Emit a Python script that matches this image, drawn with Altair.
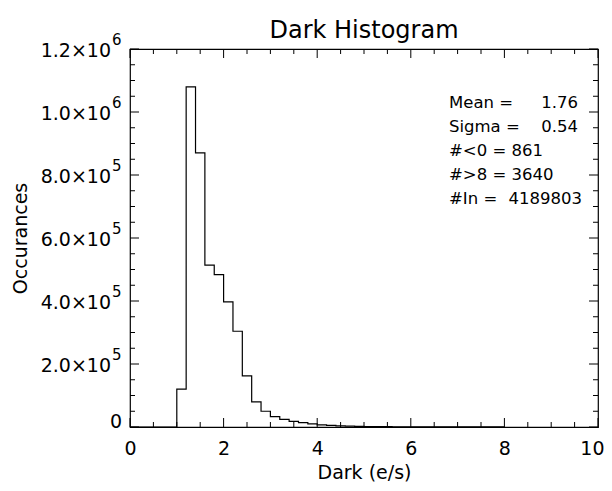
import altair as alt
import pandas as pd

FONT = "DejaVu Sans"

# ---- histogram data (bin width 0.2, from 0 to 8) ----
bin_width = 0.2
counts = [
    0, 0, 0, 0, 0,                                   # 0.0 - 1.0
    120000, 1080000, 870000, 514000, 484000,         # 1.0 - 2.0
    397000, 304000, 162000, 80000, 50000,            # 2.0 - 3.0
    33000, 24000, 18000, 14000, 10000,               # 3.0 - 4.0
    7000, 5200, 3800, 2800, 2100,                    # 4.0 - 5.0
    1600, 1200, 950, 750, 600,                       # 5.0 - 6.0
    480, 400, 330, 280, 240,                         # 6.0 - 7.0
    200, 170, 150, 130, 115,                         # 7.0 - 8.0
]
edges = [round(i * bin_width, 1) for i in range(len(counts) + 1)]

# ---- axis ticks / labels ----
x_major = [0, 2, 4, 6, 8, 10]
x_minor = [0.5, 1, 1.5, 2.5, 3, 3.5, 4.5, 5, 5.5, 6.5, 7, 7.5, 8.5, 9, 9.5]
y_major = [0, 200000, 400000, 600000, 800000, 1000000, 1200000]
y_minor = [50000, 100000, 150000, 250000, 300000, 350000, 450000, 500000, 550000,
           650000, 700000, 750000, 850000, 900000, 950000, 1050000, 1100000, 1150000]
y_mantissa = ["0", "2.0", "4.0", "6.0", "8.0", "1.0", "1.2"]
y_exponent = ["", "5", "5", "5", "5", "6", "6"]

# ---- statistics annotation ----
stat_labels = ["Mean =", "Sigma =", "#<0 = 861", "#>8 = 3640", "#In ="]
stat_values = ["1.76", "0.54", "", "", "4189803"]

W, H = 468, 378
MAJ, MIN = 9, 5

xs = alt.Scale(domain=[0, 10], nice=False, zero=False)
ys = alt.Scale(domain=[0, 1200000], nice=False)

hist_df = pd.DataFrame({"x": edges, "y": counts + [counts[-1]]})

line = alt.Chart(hist_df).mark_line(
    color="black", strokeWidth=1.2, interpolate="step-after"
).encode(
    x=alt.X("x:Q", scale=xs, axis=alt.Axis(
        values=x_major, ticks=False, domain=False, grid=False,
        labelFont=FONT, labelFontSize=19, labelPadding=12, labelColor="black",
        labelFlush=True, labelFlushOffset=6,
        title="Dark (e/s)", titleFont=FONT, titleFontSize=19,
        titleFontWeight="normal", titleColor="black",
        titleY=45, titleBaseline="middle")),
    y=alt.Y("y:Q", scale=ys, axis=alt.Axis(
        labels=False, ticks=False, domain=False, grid=False,
        title="Occurances", titleFont=FONT, titleFontSize=19,
        titleFontWeight="normal", titleColor="black",
        titleX=-110, titleY=H / 2, titleAngle=-90,
        titleAlign="center", titleBaseline="middle")),
)

def xticks(vals, length):
    df = pd.DataFrame({"v": vals})
    bottom = alt.Chart(df).mark_rule(color="black", strokeWidth=1).encode(
        x=alt.X("v:Q", scale=xs), y=alt.value(H), y2=alt.value(H - length))
    top = alt.Chart(df).mark_rule(color="black", strokeWidth=1).encode(
        x=alt.X("v:Q", scale=xs), y=alt.value(0), y2=alt.value(length))
    return [bottom, top]

def yticks(vals, length):
    df = pd.DataFrame({"v": vals})
    left = alt.Chart(df).mark_rule(color="black", strokeWidth=1).encode(
        y=alt.Y("v:Q", scale=ys), x=alt.value(0), x2=alt.value(length))
    right = alt.Chart(df).mark_rule(color="black", strokeWidth=1).encode(
        y=alt.Y("v:Q", scale=ys), x=alt.value(W), x2=alt.value(W - length))
    return [left, right]

ylab_df = pd.DataFrame({"v": y_major, "m": y_mantissa, "e": y_exponent})
ylab_df["main"] = [m if e == "" else m + "×10" for m, e in zip(y_mantissa, y_exponent)]

ylab_main = alt.Chart(ylab_df).transform_filter("datum.e != ''").mark_text(
    align="right", baseline="middle", font=FONT, fontSize=19, color="black", dy=2
).encode(y=alt.Y("v:Q", scale=ys), x=alt.value(-19), text="main:N")

ylab_zero = alt.Chart(ylab_df).transform_filter("datum.e == ''").mark_text(
    align="right", baseline="middle", font=FONT, fontSize=19, color="black", dy=-5
).encode(y=alt.Y("v:Q", scale=ys), x=alt.value(-8), text="main:N")

ylab_exp = alt.Chart(ylab_df).transform_filter("datum.e != ''").mark_text(
    align="left", baseline="middle", font=FONT, fontSize=15, color="black", dy=-9
).encode(y=alt.Y("v:Q", scale=ys), x=alt.value(-18), text="e:N")

value_right = [448, 448, 0, 0, 452]
stat_layers = []
for i, (lab, val) in enumerate(zip(stat_labels, stat_values)):
    yy = 54 + i * 24
    sdf = pd.DataFrame({"lab": [lab], "val": [val]})
    stat_layers.append(alt.Chart(sdf).mark_text(
        align="left", baseline="middle", font=FONT, fontSize=16.5, color="black"
    ).encode(x=alt.value(319), y=alt.value(yy), text="lab:N"))
    if val:
        stat_layers.append(alt.Chart(sdf).mark_text(
            align="right", baseline="middle", font=FONT, fontSize=16.5, color="black"
        ).encode(x=alt.value(value_right[i]), y=alt.value(yy), text="val:N"))

layers = [line] + xticks(x_major, MAJ) + xticks(x_minor, MIN) \
    + yticks(y_major, MAJ) + yticks(y_minor, MIN) \
    + [ylab_main, ylab_zero, ylab_exp] + stat_layers

chart = alt.layer(*layers).properties(
    width=W, height=H,
    background="white",
    title=alt.TitleParams("Dark Histogram", font=FONT, fontSize=24,
                          fontWeight="normal", color="black", anchor="middle",
                          frame="group", offset=10, dy=20),
    autosize=alt.AutoSizeParams(type="none"),
    padding={"left": 122, "top": 41, "right": 6, "bottom": 56},
).configure_view(stroke="black", strokeWidth=1.2)

chart.save("out.html", embed_options={"renderer": "svg", "actions": False})
